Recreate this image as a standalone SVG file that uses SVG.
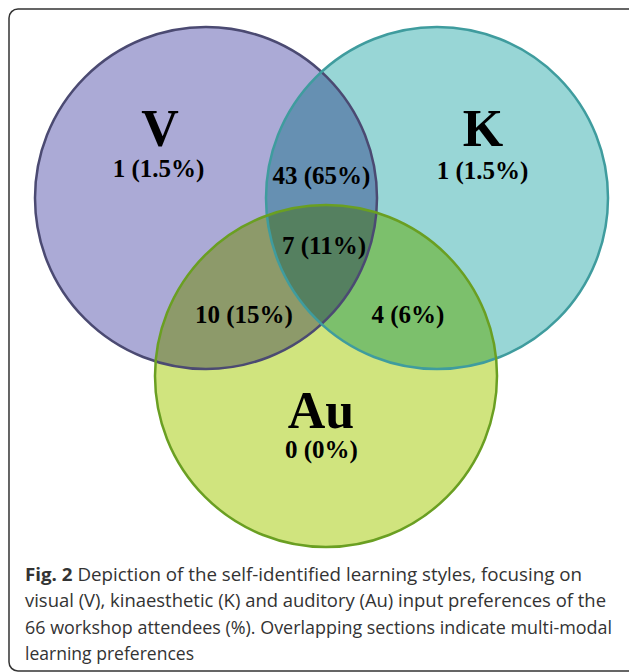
<svg xmlns="http://www.w3.org/2000/svg" width="629" height="672" viewBox="0 0 629 672">
<style>
.lbl{font-family:"Liberation Serif","Times New Roman",serif;font-weight:bold;fill:#000;text-anchor:middle}
.big{font-size:52px}
.num{font-size:25px}
.cap{font-family:"Open Sans","Liberation Sans",sans-serif;font-size:18px;fill:#333}
</style>
<defs>
<clipPath id="cV"><circle cx="206" cy="198" r="171"/></clipPath>
<clipPath id="cK"><circle cx="437" cy="198" r="171"/></clipPath>
</defs>
<rect x="9" y="9" width="632" height="662" rx="9" fill="#fff" stroke="#333" stroke-width="1.5"/>
<g id="fills">
<circle cx="206" cy="198" r="171" fill="#abaad6"/>
<circle cx="437" cy="198" r="171" fill="#98d6d6"/>
<circle cx="326" cy="376" r="171" fill="#d0e47e"/>
<circle cx="437" cy="198" r="171" fill="#6690b2" clip-path="url(#cV)"/>
<circle cx="326" cy="376" r="171" fill="#8d9a6a" clip-path="url(#cV)"/>
<circle cx="326" cy="376" r="171" fill="#7cc06c" clip-path="url(#cK)"/>
<g clip-path="url(#cK)"><circle cx="326" cy="376" r="171" fill="#558060" clip-path="url(#cV)"/></g>
</g>
<g id="node-V">
<circle cx="206" cy="198" r="171" fill="none" stroke="#4b4a72" stroke-width="2.5"/>
<text class="lbl big" x="160" y="146">V</text>
<text class="lbl num" x="158.5" y="177">1 (1.5%)</text>
</g>
<g id="node-K">
<circle cx="437" cy="198" r="171" fill="none" stroke="#3f9c9e" stroke-width="2.5"/>
<text class="lbl big" x="483" y="146">K</text>
<text class="lbl num" x="482.5" y="179">1 (1.5%)</text>
</g>
<g id="node-Au">
<circle cx="326" cy="376" r="171" fill="none" stroke="#6a9f22" stroke-width="2.5"/>
<text class="lbl big" x="321" y="428">Au</text>
<text class="lbl num" x="321.5" y="458">0 (0%)</text>
</g>
<g id="overlaps">
<text class="lbl num" x="321.5" y="184">43 (65%)</text>
<text class="lbl num" x="324" y="254">7 (11%)</text>
<text class="lbl num" x="244" y="323">10 (15%)</text>
<text class="lbl num" x="408" y="323">4 (6%)</text>
</g>
<g id="connectors"/>
<g id="caption">
<text class="cap" x="25" y="581" textLength="557" lengthAdjust="spacingAndGlyphs"><tspan font-weight="bold">Fig. 2</tspan> Depiction of the self-identified learning styles, focusing on</text>
<text class="cap" x="25" y="607" textLength="581" lengthAdjust="spacingAndGlyphs">visual (V), kinaesthetic (K) and auditory (Au) input preferences of the</text>
<text class="cap" x="25" y="633.5" textLength="587" lengthAdjust="spacingAndGlyphs">66 workshop attendees (%). Overlapping sections indicate multi-modal</text>
<text class="cap" x="25" y="660" textLength="169" lengthAdjust="spacingAndGlyphs">learning preferences</text>
</g>
</svg>
